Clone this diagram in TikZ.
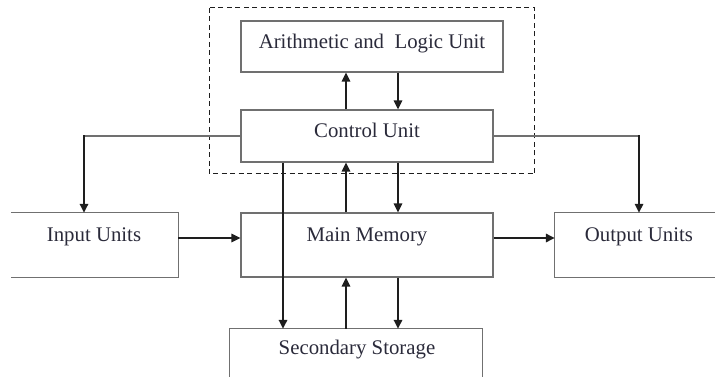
\documentclass[tikz,border=0pt]{standalone}
\usepackage{fontspec}
\setmainfont{Liberation Serif}
\usetikzlibrary{arrows.meta}
\definecolor{boxgray}{HTML}{707070}
\definecolor{arrowdark}{HTML}{1E1E1E}
\definecolor{txtcol}{HTML}{2A2A3A}
\tikzset{
  box/.style={draw=boxgray, line width=1.3pt, inner sep=0pt, fill=none},
  openbox/.style={draw=none, inner sep=0pt},
  edge/.style={draw=boxgray, line width=1.3pt},
  lbl/.style={inner sep=0pt, text=txtcol, font=\fontsize{20.8}{24}\selectfont},
  conn/.style={draw=arrowdark, line width=1.6pt},
  arr/.style={conn, -{Triangle[length=9pt,width=8.5pt]}},
  dashbox/.style={draw=arrowdark, line width=1pt, dash pattern=on 5pt off 3.5pt}
}
\begin{document}
\begin{tikzpicture}[x=1pt,y=-1pt]
\useasboundingbox (0,0) rectangle (715,377);
% dashed frame
\draw[dashbox] (209,8) rectangle (534.5,174);
% boxes
\node[box, minimum width=262pt, minimum height=51pt] (alu) at (372,46.5) {};
\node[box, minimum width=252pt, minimum height=52pt] (cu) at (367,136) {};
\node[box, minimum width=252pt, minimum height=64pt] (mm) at (367,245) {};
\node[openbox, minimum width=167pt, minimum height=64pt] (inp) at (94.5,245) {};
\node[openbox, minimum width=164pt, minimum height=64pt] (out) at (637,245) {};
\node[openbox, minimum width=252pt, minimum height=52pt] (ss) at (356,355) {};
\draw[edge] (inp.north west) -- (inp.north east) -- (inp.south east) -- (inp.south west);
\draw[edge] (out.north east) -- (out.north west) -- (out.south west) -- (out.south east);
\draw[edge] (ss.south west) -- (ss.north west) -- (ss.north east) -- (ss.south east);
% labels
\node[lbl] (alut) at (372,44) {Arithmetic and\ \ Logic Unit};
\node[lbl] (cut) at (367,130.5) {Control Unit};
\node[lbl] (mmt) at (367,237) {Main Memory};
\node[lbl] (inpt) at (94,237) {Input Units};
\node[lbl] (outt) at (639,237) {Output Units};
\node[lbl] (sst) at (357,350) {Secondary Storage};
% connectors
\draw[arr] (cu.north -| 346,0) -- (alu.south -| 346,0);
\draw[arr] (alu.south -| 398,0) -- (cu.north -| 398,0);
\draw[arr] (mm.north -| 346,0) -- (cu.south -| 346,0);
\draw[arr] (cu.south -| 398,0) -- (mm.north -| 398,0);
\draw[arr] (ss.north -| 346,0) -- (mm.south -| 346,0);
\draw[arr] (mm.south -| 398,0) -- (ss.north -| 398,0);
\draw[arr] (cu.south -| 283,0) -- (ss.north -| 283,0);
\draw[arr] (inp.east |- 0,238) -- (mm.west |- 0,238);
\draw[arr] (mm.east |- 0,238) -- (out.west |- 0,238);
\draw[edge] (cu.west |- 0,136) -- (84,136);
\draw[arr] (84,135.35) -- (inp.north -| 84,0);
\draw[edge] (cu.east |- 0,136) -- (639,136);
\draw[arr] (639,135.35) -- (out.north -| 639,0);
\end{tikzpicture}
\end{document}
